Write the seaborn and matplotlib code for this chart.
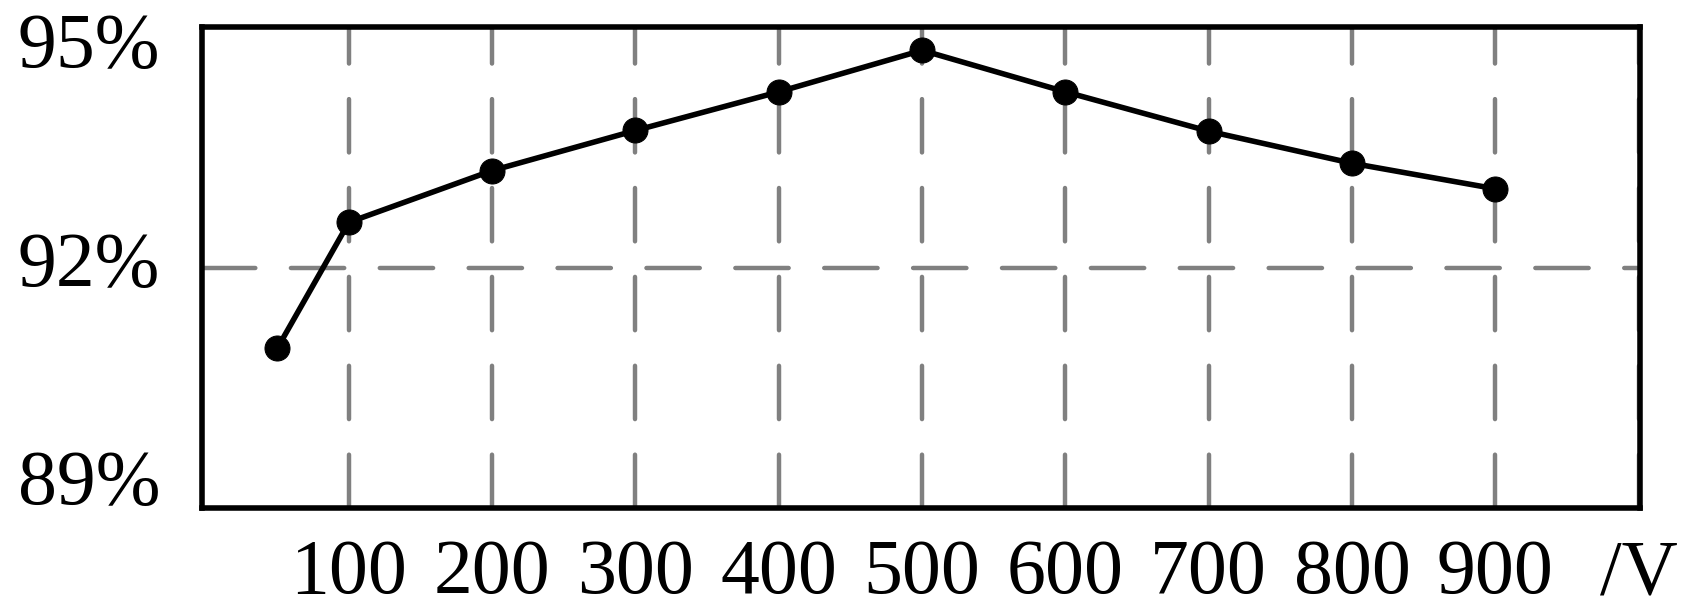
import matplotlib
matplotlib.use("Agg")
import matplotlib.pyplot as plt
import matplotlib.transforms as mtransforms
import seaborn as sns
import pandas as pd

# voltage (V) vs efficiency (%)
voltage = [50, 100, 200, 300, 400, 500, 600, 700, 800, 900]
efficiency = [90.89, 92.62, 93.33, 93.88, 94.41, 94.98, 94.41, 93.87, 93.43, 93.08]
x_ticks = [100, 200, 300, 400, 500, 600, 700, 800, 900, 1000]
x_labels = ["100", "200", "300", "400", "500", "600", "700", "800", "900", "/V"]
y_ticks = [89, 92, 95]
y_labels = ["89%", "92%", "95%"]

df = pd.DataFrame({"voltage": voltage, "efficiency": efficiency})

sns.set_style("white")
plt.rcParams["font.family"] = "serif"
plt.rcParams["font.serif"] = ["Liberation Serif", "TeX Gyre Termes", "DejaVu Serif"]

GRID = "#808080"
FONT = "Liberation Serif"

fig = plt.figure(figsize=(16.96, 6.12), dpi=100)
ax = fig.add_axes([0.1191, 0.1699, 0.967 - 0.1191, 0.9559 - 0.1699])

ax.set_xlim(-2.5, 1001)
ax.set_ylim(88.7, 95.3)

# dashed grid: vertical at each voltage tick, horizontal only at 92%
ax.set_xticks(x_ticks)
ax.set_xticklabels(x_labels, fontfamily=FONT, fontsize=56)
ax.set_yticks(y_ticks)
ax.set_yticklabels(y_labels, fontfamily=FONT, fontsize=56)
ax.grid(axis="x", color=GRID, linewidth=3.2, dashes=(12, 8),
        dash_capstyle="round")
ax.axhline(92, color=GRID, linewidth=3.2, dashes=(12, 8),
           dash_capstyle="round", zorder=1)
ax.set_axisbelow(True)

sns.lineplot(data=df, x="voltage", y="efficiency", ax=ax, color="black",
             linewidth=4, marker="o", markersize=18,
             markeredgecolor="black", zorder=3)

for s in ax.spines.values():
    s.set_color("black")
    s.set_linewidth(4)

ax.tick_params(axis="both", length=0, colors="black")
ax.tick_params(axis="y", pad=30)
ax.tick_params(axis="x", pad=22)
ax.set_xlabel("")
ax.set_ylabel("")

# y labels sit a little above their lines in the original
shift = mtransforms.ScaledTranslation(0, 0.09, fig.dpi_scale_trans)
for lab in ax.get_yticklabels():
    lab.set_transform(lab.get_transform() + shift)

fig.savefig("out.png", dpi=100, facecolor="white")
